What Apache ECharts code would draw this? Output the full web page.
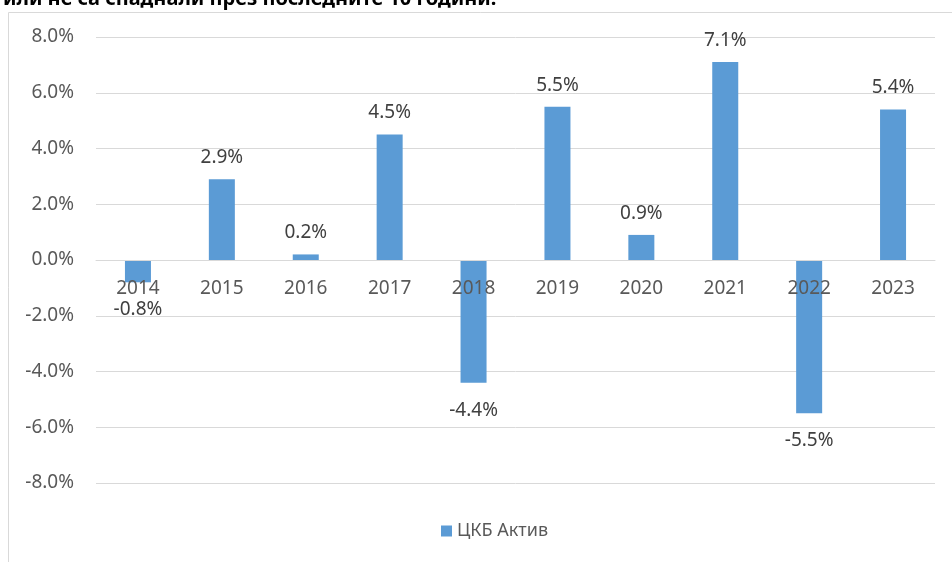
<!DOCTYPE html>
<html lang="bg">
<head>
<meta charset="UTF-8" />
<title>ЦКБ Актив</title>
<script src="https://cdn.jsdelivr.net/npm/echarts@6/dist/echarts.min.js"></script>
<style>
  body { margin: 0; background: #fff; }
  #chart { width: 952px; height: 562px; }
</style>
</head>
<body>
<div id="chart"></div>
<script>
// данни
const years = ['2014', '2015', '2016', '2017', '2018', '2019', '2020', '2021', '2022', '2023'];
const growth = [-0.8, 2.9, 0.2, 4.5, -4.4, 5.5, 0.9, 7.1, -5.5, 5.4];
const seriesName = 'ЦКБ Актив';
const yTicks = [-8, -6, -4, -2, 0, 2, 4, 6, 8];

const chart = echarts.init(document.getElementById('chart'));
const font = '"Noto Sans", "Open Sans", sans-serif';

// grid в пиксели
const gridTop = 37, gridBottom = 79;
const plotH = 562 - gridTop - gridBottom;

chart.setOption({
    animation: false,
    title: {
        text: 'или не са спаднали през последните 10 години.',
        left: -2,
        top: -16,
        textStyle: { fontSize: 20, fontWeight: 'bold', color: '#000', fontFamily: font }
    },
    graphic: [
        { type: 'line', shape: { x1: 8.5, y1: 12.5, x2: 8.5, y2: 562 }, style: { stroke: '#d9d9d9', lineWidth: 1 } },
        { type: 'line', shape: { x1: 8.5, y1: 12.5, x2: 952, y2: 12.5 }, style: { stroke: '#d9d9d9', lineWidth: 1 } }
    ],
    grid: { left: 96, right: 17, top: gridTop, bottom: gridBottom },
    legend: {
        bottom: 17,
        left: 436,
        itemWidth: 11,
        itemHeight: 11,
        itemGap: 6,
        icon: 'rect',
        textStyle: { fontSize: 18, color: '#595959', fontFamily: font },
        data: [seriesName]
    },
    xAxis: {
        type: 'category',
        data: years,
        z: 10,
        axisLine: { onZero: true, lineStyle: { color: '#d9d9d9' } },
        axisTick: { show: false },
        // етикетите стоят до нулевата линия, както в Excel
        axisLabel: { fontSize: 19, color: '#595959', fontFamily: font, margin: -(plotH / 2) + 19 }
    },
    yAxis: {
        type: 'value',
        min: yTicks[0],
        max: yTicks[yTicks.length - 1],
        interval: 2,
        axisLine: { show: false },
        axisTick: { show: false },
        splitLine: { lineStyle: { color: '#d9d9d9' } },
        axisLabel: {
            fontSize: 19, color: '#595959', fontFamily: font, margin: 22,
            formatter: v => v.toFixed(1) + '%'
        }
    },
    series: [{
        name: seriesName,
        type: 'bar',
        barWidth: '31%',
        itemStyle: { color: '#5b9bd5' },
        label: {
            show: true,
            fontSize: 19,
            color: '#404040',
            fontFamily: font,
            formatter: p => p.value.toFixed(1) + '%'
        },
        data: growth.map(v => ({
            value: v,
            label: { position: v < 0 ? 'bottom' : 'top', distance: v < 0 ? 18 : 12 }
        }))
    }]
});
</script>
</body>
</html>
